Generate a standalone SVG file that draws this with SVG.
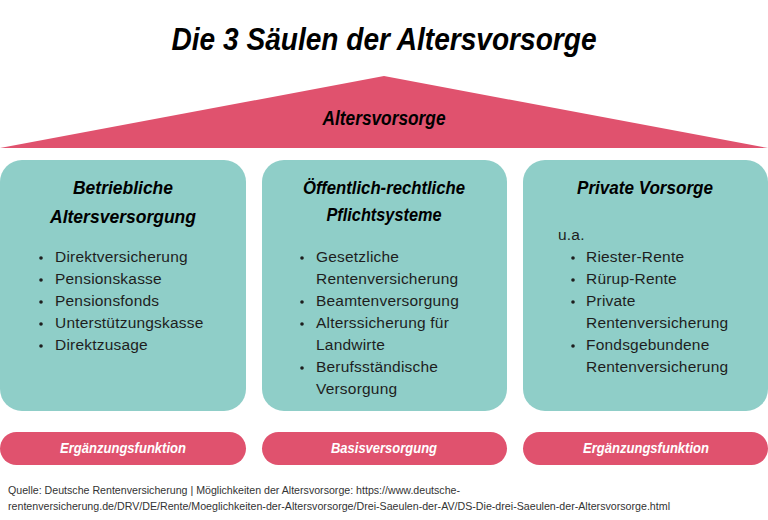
<svg xmlns="http://www.w3.org/2000/svg" width="768" height="520" viewBox="0 0 768 520">
<style>
.cond{font-family:"Liberation Sans","Roboto",sans-serif;font-weight:bold;font-style:italic}
.title{font-size:32px;fill:#000}
.head{font-size:19px;fill:#000}
.pilltxt{font-size:15px;fill:#fff}
.body{font-family:"Liberation Sans","Roboto",sans-serif;font-size:15.5px;letter-spacing:0.2px;fill:#1e1e1e}
.dot{fill:#1e1e1e}
.src{font-family:"Liberation Sans","Roboto",sans-serif;font-size:10.5px;fill:#333}
.box{fill:#8FCEC8}
.pink{fill:#E0526E}
</style>
<defs><circle id="b" r="1.8" class="dot"/></defs>
<rect width="768" height="520" fill="#fff"/>
<g id="title">
<text class="cond title" x="384" y="50" text-anchor="middle" textLength="425" lengthAdjust="spacingAndGlyphs">Die 3 Säulen der Altersvorsorge</text>
</g>
<g id="roof">
<polygon class="pink" points="384,76 768,148 0,148"/>
<text class="cond" x="384" y="125" text-anchor="middle" font-size="20" textLength="123" lengthAdjust="spacingAndGlyphs">Altersvorsorge</text>
</g>
<g id="saeule1">
<rect class="box" x="0" y="160" width="246" height="251" rx="22"/>
<text class="cond head" x="123" y="194" text-anchor="middle" textLength="100" lengthAdjust="spacingAndGlyphs">Betriebliche</text>
<text class="cond head" x="123" y="223" text-anchor="middle" textLength="146" lengthAdjust="spacingAndGlyphs">Altersversorgung</text>
<use href="#b" x="41" y="258"/><use href="#b" x="41" y="280"/><use href="#b" x="41" y="302"/><use href="#b" x="41" y="324"/><use href="#b" x="41" y="346"/>
<g class="body">
<text x="55" y="262">Direktversicherung</text>
<text x="55" y="284">Pensionskasse</text>
<text x="55" y="306">Pensionsfonds</text>
<text x="55" y="328">Unterstützungskasse</text>
<text x="55" y="350">Direktzusage</text>
</g>
</g>
<g id="saeule2">
<rect class="box" x="262" y="160" width="245" height="251" rx="22"/>
<text class="cond head" x="384" y="194" text-anchor="middle" textLength="162" lengthAdjust="spacingAndGlyphs">Öffentlich-rechtliche</text>
<text class="cond head" x="384" y="221" text-anchor="middle" textLength="115" lengthAdjust="spacingAndGlyphs">Pflichtsysteme</text>
<use href="#b" x="302" y="258"/><use href="#b" x="302" y="302"/><use href="#b" x="302" y="324"/><use href="#b" x="302" y="368"/>
<g class="body">
<text x="316" y="262">Gesetzliche</text>
<text x="316" y="284">Rentenversicherung</text>
<text x="316" y="306">Beamtenversorgung</text>
<text x="316" y="328">Alterssicherung für</text>
<text x="316" y="350">Landwirte</text>
<text x="316" y="372">Berufsständische</text>
<text x="316" y="394">Versorgung</text>
</g>
</g>
<g id="saeule3">
<rect class="box" x="523" y="160" width="245" height="251" rx="22"/>
<text class="cond head" x="645" y="194" text-anchor="middle" textLength="136" lengthAdjust="spacingAndGlyphs">Private Vorsorge</text>
<use href="#b" x="573" y="258"/><use href="#b" x="573" y="280"/><use href="#b" x="573" y="302"/><use href="#b" x="573" y="346"/>
<g class="body">
<text x="558" y="240">u.a.</text>
<text x="586" y="262">Riester-Rente</text>
<text x="586" y="284">Rürup-Rente</text>
<text x="586" y="306">Private</text>
<text x="586" y="328">Rentenversicherung</text>
<text x="586" y="350">Fondsgebundene</text>
<text x="586" y="372">Rentenversicherung</text>
</g>
</g>
<g id="funktion1">
<rect class="pink" x="0" y="432" width="246" height="33" rx="16.5"/>
<text class="cond pilltxt" x="123" y="453" text-anchor="middle" textLength="126" lengthAdjust="spacingAndGlyphs">Ergänzungsfunktion</text>
</g>
<g id="funktion2">
<rect class="pink" x="262" y="432" width="245" height="33" rx="16.5"/>
<text class="cond pilltxt" x="384" y="453" text-anchor="middle" textLength="106" lengthAdjust="spacingAndGlyphs">Basisversorgung</text>
</g>
<g id="funktion3">
<rect class="pink" x="523" y="432" width="245" height="33" rx="16.5"/>
<text class="cond pilltxt" x="646" y="453" text-anchor="middle" textLength="126" lengthAdjust="spacingAndGlyphs">Ergänzungsfunktion</text>
</g>
<g id="quelle" class="src">
<text x="8" y="494" textLength="452" lengthAdjust="spacingAndGlyphs">Quelle: Deutsche Rentenversicherung | Möglichkeiten der Altersvorsorge: https://www.deutsche-</text>
<text x="8" y="510" textLength="662" lengthAdjust="spacingAndGlyphs">rentenversicherung.de/DRV/DE/Rente/Moeglichkeiten-der-Altersvorsorge/Drei-Saeulen-der-AV/DS-Die-drei-Saeulen-der-Altersvorsorge.html</text>
</g>
</svg>
